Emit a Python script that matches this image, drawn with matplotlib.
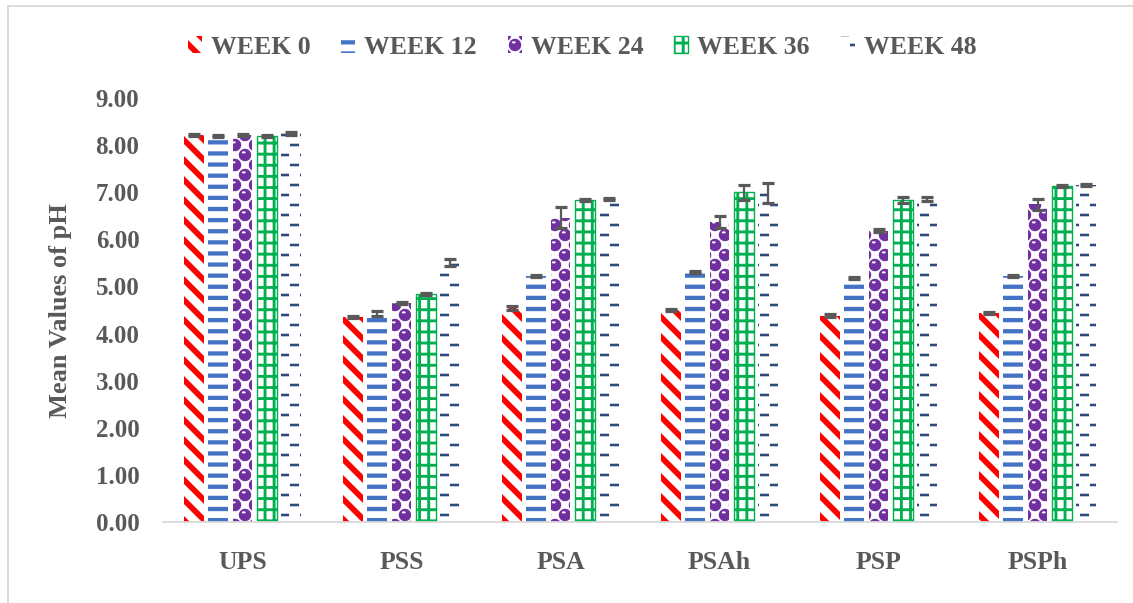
import numpy as np
import matplotlib
matplotlib.use('Agg')
import matplotlib.pyplot as plt
import matplotlib.hatch as mhatch
from matplotlib.path import Path
from matplotlib.patches import Rectangle

# ---------------- data ----------------
categories = ['UPS', 'PSS', 'PSA', 'PSAh', 'PSP', 'PSPh']
series_labels = ['WEEK 0', 'WEEK 12', 'WEEK 24', 'WEEK 36', 'WEEK 48']
week0 = [8.22, 4.35, 4.54, 4.50, 4.38, 4.43]
week12 = [8.20, 4.42, 5.23, 5.31, 5.17, 5.22]
week24 = [8.22, 4.65, 6.46, 6.37, 6.18, 6.74]
week36 = [8.20, 4.84, 6.84, 7.00, 6.84, 7.13]
week48 = [8.25, 5.51, 6.86, 6.99, 6.85, 7.15]
err0 = [0.02, 0.02, 0.04, 0.02, 0.03, 0.02]
err12 = [0.02, 0.05, 0.02, 0.02, 0.02, 0.02]
err24 = [0.02, 0.03, 0.22, 0.13, 0.03, 0.12]
err36 = [0.02, 0.02, 0.02, 0.16, 0.06, 0.02]
err48 = [0.03, 0.07, 0.02, 0.21, 0.04, 0.02]
yticks = [0, 1, 2, 3, 4, 5, 6, 7, 8, 9]
y_label = 'Mean Values of pH'

series_values = [week0, week12, week24, week36, week48]
series_errors = [err0, err12, err24, err36, err48]
series_colors = ['#FF0000', '#4472C4', '#7030A0', '#00B050', '#2E4A7D']
series_hatch = ['\\', '-', 'o', '+', '.']

# ---------------- custom hatch patterns (Excel-like fills) ----------------
def _rect(x0, y0, x1, y1):
    return [(x0, y0), (x1, y0), (x1, y1), (x0, y1)]

def _circle(cx, cy, r, n=28, reverse=False, sy=1.0):
    t = np.linspace(0, 2 * np.pi, n, endpoint=False)
    if reverse:
        t = t[::-1]
    return list(zip(cx + r * np.cos(t), cy + sy * r * np.sin(t)))

def _red_polys():
    n, w = 5, 0.4 / 5
    polys = []
    for k in range(-2, 2 * n + 2):
        c = k / n
        polys.append([(-0.5, c + 0.5), (1.5, c - 1.5),
                      (1.5, c - 1.5 + w), (-0.5, c + 0.5 + w)])
    return polys

def _blue_polys():
    n, t = 9, 0.042
    return [_rect(-0.1, j / n, 1.1, j / n + t) for j in range(n)]

def _purple_polys():
    polys = []
    r = 0.062
    for j in range(-1, 11):
        cy = (j + 0.5) / 10
        off = 0.1 if j % 2 else 0.0
        for i in range(-1, 6):
            cx = i / 5 + off + 0.05
            polys.append(_circle(cx, cy, r))
            polys.append(_circle(cx - 0.012, cy + 0.026, 0.02, n=16,
                                 reverse=True, sy=0.55))
    return polys

def _green_polys():
    polys = []
    t = 0.028
    for j in range(9):
        polys.append(_rect(-0.1, j / 9, 1.1, j / 9 + t))
    for i in range(11):
        polys.append(_rect(i / 11, -0.1, i / 11 + t, 1.1))
    return polys

def _navy_polys():
    polys = []
    t, L = 0.025, 0.09
    for j in range(-1, 11):
        y0 = j / 10 + 0.05 - t / 2
        off = 0.1 if j % 2 else 0.0
        for i in range(-1, 6):
            x0 = i / 5 + off
            polys.append(_rect(x0, y0, x0 + L, y0 + t))
    return polys

def _make_hatch(char, polys):
    class _H:
        def __init__(self, hatch, density):
            self.active = char in hatch
            self.num_vertices = (sum(len(p) + 1 for p in polys)
                                 if self.active else 0)

        def set_vertices_and_codes(self, vertices, codes):
            i = 0
            for p in polys:
                n = len(p)
                vertices[i:i + n] = p
                vertices[i + n] = p[0]
                codes[i] = Path.MOVETO
                codes[i + 1:i + n] = Path.LINETO
                codes[i + n] = Path.CLOSEPOLY
                i += n + 1
    return _H

mhatch._hatch_types = [
    _make_hatch('\\', _red_polys()),
    _make_hatch('-', _blue_polys()),
    _make_hatch('o', _purple_polys()),
    _make_hatch('+', _green_polys()),
    _make_hatch('.', _navy_polys()),
]
plt.rcParams['hatch.linewidth'] = 0.05

# ---------------- figure ----------------
grey = '#595959'
font = {'family': 'Liberation Serif', 'weight': 'bold'}

fig = plt.figure(figsize=(11.33, 6.03), dpi=100)
ax = fig.add_axes([163 / 1133, (603 - 522) / 603, 954 / 1133, 424 / 603])

x = np.arange(len(categories))
step, width = 0.1525, 0.123
handles = []
for k, (vals, errs, col, hat, lab) in enumerate(zip(series_values, series_errors,
                                                      series_colors, series_hatch,
                                                      series_labels)):
    pos = x + (k - 2) * step
    lw = 1.0 if k == 3 else 0.0
    b = ax.bar(pos, vals, width, facecolor='white', edgecolor=col, hatch=hat,
               linewidth=lw, label=lab, zorder=2)
    handles.append(b)
    ax.errorbar(pos, vals, yerr=errs, fmt='none', ecolor='#595959',
                elinewidth=1.6, capsize=4.3, capthick=2.3, zorder=3)

ax.set_xlim(-0.5, len(categories) - 0.5)
ax.set_ylim(0, 9)
ax.set_yticks(yticks)
ax.set_yticklabels(['%.2f' % v for v in yticks], fontdict=font, fontsize=18, color=grey)
ax.set_xticks(x)
ax.set_xticklabels(categories, fontdict=font, fontsize=18.5, color=grey)
ax.tick_params(axis='y', length=0, pad=17)
ax.tick_params(axis='x', length=0, pad=21)
for s in ['left', 'right', 'top']:
    ax.spines[s].set_visible(False)
ax.spines['bottom'].set_color('#D9D9D9')
ax.spines['bottom'].set_linewidth(1.3)
ax.spines['bottom'].set_zorder(4)

fig.text(60 / 1133, 1 - 311 / 603, y_label, rotation=90, ha='center', va='center',
         fontsize=19, color=grey, **font)

leg = fig.legend(handles=handles, labels=series_labels, loc='center',
                 bbox_to_anchor=(582 / 1133, 1 - 47 / 603), ncol=5, frameon=False,
                 handlelength=0.55, handleheight=0.6, handletextpad=0.35,
                 columnspacing=1.2, prop={'family': 'Liberation Serif',
                                          'weight': 'bold', 'size': 18.5},
                 labelcolor=grey)

fig.add_artist(Rectangle((8 / 1133, -0.5), 2, 1.5 - 6 / 603, transform=fig.transFigure,
                         fill=False, edgecolor='#D9D9D9', linewidth=1.3))

fig.savefig('out.png', dpi=100, facecolor='white')
